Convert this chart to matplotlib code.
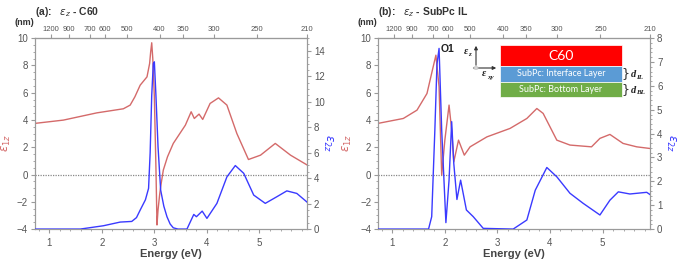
import numpy as np
import matplotlib
matplotlib.use("Agg")
import matplotlib.pyplot as plt
from matplotlib.patches import Rectangle, Circle, FancyArrowPatch
from matplotlib.ticker import MultipleLocator

plt.rcParams['font.family'] = ['Liberation Sans', 'DejaVu Sans']

# ---- data (energy in eV) ----
# panel (a): C60
a_e1_E = [0.73, 1.27, 1.905, 2.41, 2.54, 2.63, 2.73, 2.86, 2.91, 2.93, 2.95, 2.97, 3.0,
          3.03, 3.05, 3.07, 3.10, 3.12, 3.17, 3.25, 3.36, 3.59, 3.70, 3.76, 3.85,
          3.92, 4.06, 4.22, 4.38, 4.57, 4.79, 5.02, 5.30, 5.59, 5.91]
a_e1 = [3.75, 3.99, 4.52, 4.82, 5.09, 5.7, 6.55, 7.16, 8.14, 9.0, 9.66, 8.5, 5.7,
        0.5, -3.7, -2.6, -1.5, -0.9, 0.32, 1.3, 2.28, 3.62, 4.6, 4.11, 4.43,
        4.04, 5.21, 5.62, 5.09, 3.0, 1.1, 1.42, 2.28, 1.42, 0.69]
a_e2_E = [0.73, 1.59, 2.03, 2.35, 2.57, 2.66, 2.73, 2.83, 2.89, 2.92, 2.95, 2.98, 3.0, 3.03,
          3.07, 3.12, 3.18, 3.24, 3.30, 3.36, 3.45, 3.62, 3.75, 3.80, 3.91, 4.0,
          4.19, 4.38, 4.54, 4.70, 4.89, 5.11, 5.33, 5.52, 5.71, 5.91]
a_e2 = [0.0, 0.0, 0.26, 0.55, 0.6, 0.9, 1.49, 2.3, 3.2, 6.0, 10.5, 13.0, 13.14, 10.5,
        6.46, 3.06, 1.8, 0.97, 0.4, 0.1, 0.0, 0.0, 1.15, 0.97, 1.41, 0.84,
        2.02, 4.1, 4.99, 4.38, 2.67, 2.02, 2.54, 3.0, 2.8, 2.1]

# panel (b): SubPc IL
b_e1_E = [0.73, 1.21, 1.47, 1.66, 1.76, 1.83, 1.89, 1.94, 2.0, 2.08, 2.13, 2.17,
          2.26, 2.37, 2.48, 2.80, 3.24, 3.56, 3.75, 3.87, 4.13, 4.38, 4.79, 4.95,
          5.14, 5.39, 5.65, 5.9]
b_e1 = [3.75, 4.11, 4.72, 5.94, 7.6, 8.75, 6.43, -0.04, 2.52, 5.09, 3.26, 0.93,
        2.52, 1.42, 2.03, 2.76, 3.38, 4.11, 4.84, 4.48, 2.52, 2.16, 2.03, 2.65,
        2.94, 2.28, 2.03, 1.91]
b_e2_E = [0.73, 1.69, 1.75, 1.81, 1.85, 1.89, 1.94, 2.02, 2.08, 2.13, 2.17, 2.23,
          2.30, 2.41, 2.54, 2.73, 3.30, 3.56, 3.72, 3.94, 4.13, 4.38, 4.63, 4.95,
          5.14, 5.30, 5.52, 5.84, 5.9]
b_e2 = [0.0, 0.0, 0.52, 4.15, 6.9, 7.57, 4.15, 0.27, 2.05, 4.5, 2.75, 1.24,
        2.05, 0.8, 0.52, 0.03, 0.0, 0.38, 1.63, 2.58, 2.19, 1.5, 1.08, 0.59,
        1.21, 1.56, 1.47, 1.54, 1.45]

nm_ticks = [1200, 900, 700, 600, 500, 400, 350, 300, 250, 210]
HC = 1239.84  # eV*nm

RED = '#d46a6a'
BLUE = '#3a3aff'
GRID = '#9a9a9a'
TXT = '#555555'


def style_axis(ax):
    for s in ax.spines.values():
        s.set_color(GRID)
    ax.tick_params(colors=GRID, labelcolor=TXT, labelsize=7, length=3, width=0.8)
    ax.tick_params(axis='y', pad=2)
    ax.tick_params(which='minor', colors=GRID, length=1.5, width=0.6)


def panel(left, title, E1, e1, E2, e2, r_max, r_minor, lab_l, lab_r):
    ax = fig.add_axes([left, 0.129, 0.4, 0.726])
    ax.plot(E1, e1, color=RED, lw=1.0, zorder=3)
    ax.axhline(0, color='#888888', lw=0.9, ls=(0, (1, 1)), zorder=1)
    ax.set_xlim(0.73, HC / 210)
    ax.set_ylim(-4, 10)
    ax.xaxis.set_major_locator(MultipleLocator(1))
    ax.xaxis.set_minor_locator(MultipleLocator(0.2))
    ax.yaxis.set_minor_locator(MultipleLocator(0.5))
    ax.set_yticks(range(-4, 11, 2), [str(v).replace('-', '\u2212') for v in range(-4, 11, 2)])
    style_axis(ax)
    ax.set_xlabel('Energy (eV)', fontsize=8, fontweight='bold', color='#444444', labelpad=1)
    ax.set_ylabel(r'$\varepsilon_{1z}$', color=RED, fontsize=8.5)
    ax.yaxis.set_label_coords(lab_l, 0.45)

    ax2 = ax.twinx()
    ax2.plot(E2, e2, color=BLUE, lw=1.0, zorder=4)
    ax2.set_ylim(0, r_max)
    ax2.yaxis.set_minor_locator(MultipleLocator(r_minor))
    style_axis(ax2)
    ax2.set_ylabel(r'$\varepsilon_{2z}$', color=BLUE, fontsize=8.5, rotation=-90)
    ax2.yaxis.set_label_coords(lab_r, 0.45)

    top = ax.secondary_xaxis('top')
    top.set_xticks([HC / n for n in nm_ticks], [str(n) for n in nm_ticks])
    top.tick_params(colors=GRID, labelcolor=TXT, labelsize=5.5, length=3, width=0.8, pad=1)
    top.spines['top'].set_color(GRID)
    top.xaxis.set_minor_locator(matplotlib.ticker.NullLocator())

    fig.text(left - 0.03, 0.905, '(nm)', fontsize=6.5, fontweight='bold', color='#333333')
    fig.text(left, 0.955, title, fontsize=7.5, fontweight='bold', color='#333333',
             va='center')
    return ax, ax2


fig = plt.figure(figsize=(6.8, 2.63), dpi=100)

axa, axa2 = panel(0.0515, r'(a):   $\varepsilon_z$ - C60', a_e1_E, a_e1, a_e2_E, a_e2,
                  15, 0.5, -0.08, 1.10)
axb, axb2 = panel(0.556, r'(b):   $\varepsilon_z$ - SubPc IL', b_e1_E, b_e1, b_e2_E, b_e2,
                  8, 0.2, -0.09, 1.10)

axb.text(1.92, 9.6, 'O1', fontsize=7.5, fontweight='bold', color='#222222', va='top', zorder=6)


# ---- layer sketch inset (figure pixel coordinates) ----
def fx(px):
    return px / 680.0


def fy(py):
    return 1 - py / 263.0


layers = [('C60', '#ff0000', 45, 66, 10),
          ('SubPc: Interface Layer', '#5b9bd5', 66, 81.7, 6.5),
          ('SubPc: Bottom Layer', '#70ad47', 81.7, 96.7, 6.5)]
for name, col, y0, y1, fs in layers:
    fig.add_artist(Rectangle((fx(500), fy(y1)), fx(621.7) - fx(500), fy(y0) - fy(y1),
                             transform=fig.transFigure, facecolor=col, edgecolor='white',
                             lw=0.5, zorder=10))
    fig.text(fx(560.8), fy((y0 + y1) / 2), name, color='white', fontsize=fs,
             ha='center', va='center', family=['Lato', 'DejaVu Sans'], zorder=11)

for y0, y1, lab in [(66, 81.7, 'IL'), (81.7, 96.7, 'BL')]:
    fig.text(fx(625), fy((y0 + y1) / 2), '}', fontsize=9, ha='center', va='center',
             color='#333333', family='DejaVu Sans', zorder=11)
    fig.text(fx(631), fy((y0 + y1) / 2 + 1), 'd', fontsize=7.5, ha='left', va='center',
             fontweight='bold', fontstyle='italic', family='Liberation Serif', color='#222222')
    fig.text(fx(636), fy((y0 + y1) / 2 + 3.5), lab, fontsize=5, ha='left', va='center',
             fontweight='bold', fontstyle='italic', family='Liberation Serif', color='#222222')

ox, oy = 476, 68
fig.add_artist(FancyArrowPatch((fx(ox), fy(oy)), (fx(ox), fy(43)), transform=fig.transFigure,
                               arrowstyle='-|>', mutation_scale=5, lw=0.8, color='#333333'))
fig.add_artist(FancyArrowPatch((fx(ox), fy(oy)), (fx(499), fy(oy)), transform=fig.transFigure,
                               arrowstyle='-|>', mutation_scale=5, lw=0.8, color='#333333'))
fig.add_artist(Circle((fx(ox), fy(oy)), 0.004, transform=fig.transFigure, facecolor='white',
                      edgecolor='#999999', lw=0.6, zorder=12))
fig.text(fx(466), fy(52), '\u03b5', fontsize=7.5, fontweight='bold', fontstyle='italic',
         family='Liberation Serif', ha='center', va='center', color='#222222')
fig.text(fx(470), fy(55), 'z', fontsize=5, fontweight='bold', fontstyle='italic',
         family='Liberation Serif', ha='center', va='center', color='#222222')
fig.text(fx(484), fy(74), '\u03b5', fontsize=7.5, fontweight='bold', fontstyle='italic',
         family='Liberation Serif', ha='center', va='center', color='#222222')
fig.text(fx(490.5), fy(77), 'xy', fontsize=5, fontweight='bold', fontstyle='italic',
         family='Liberation Serif', ha='center', va='center', color='#222222')

fig.savefig('out.png', dpi=100)
